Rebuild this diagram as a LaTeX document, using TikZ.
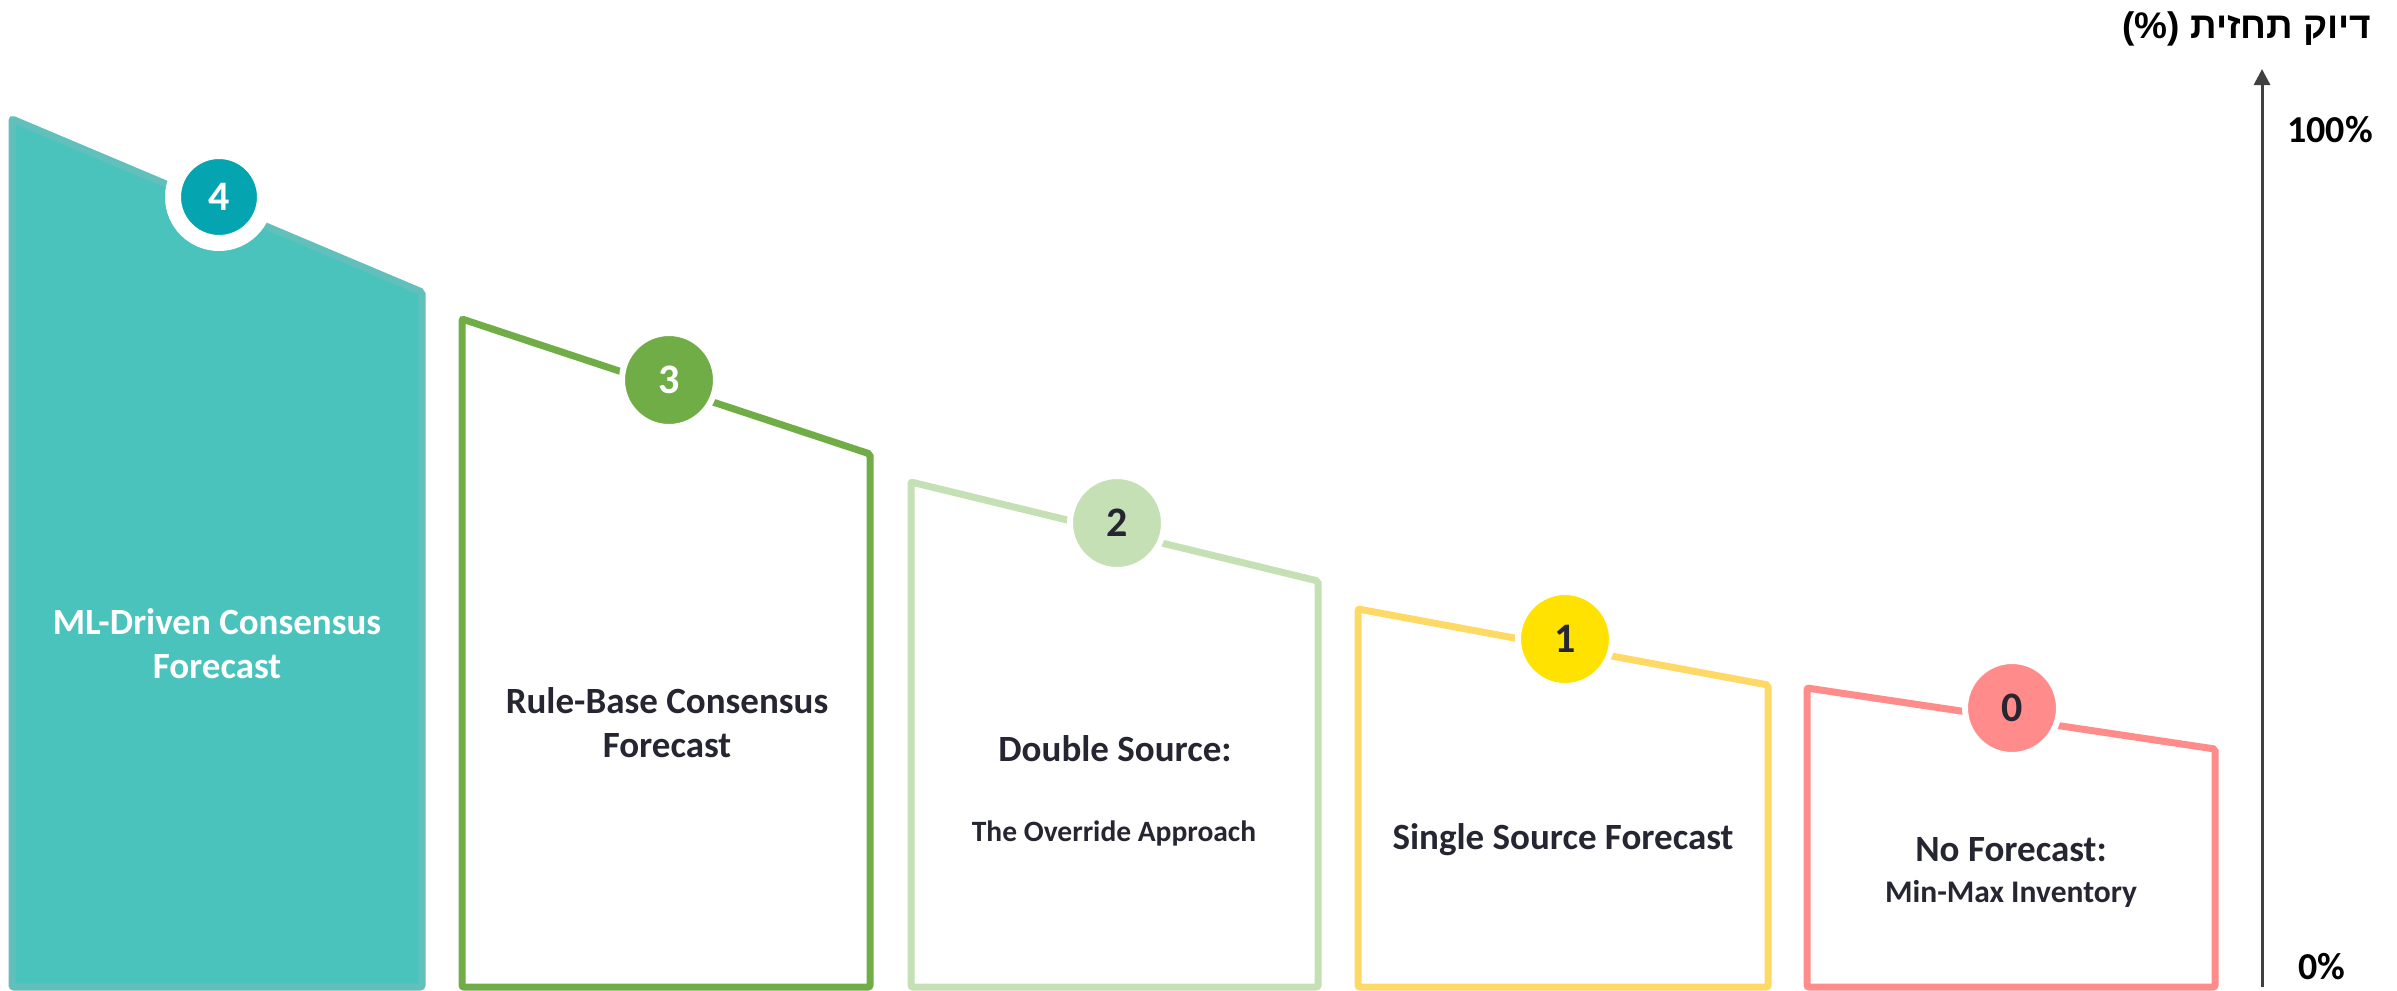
\documentclass[tikz,border=0pt]{standalone}
\usepackage{fontspec}
\setmainfont{Carlito}
\newfontfamily\hebfont[Script=Hebrew]{Liberation Sans}
\TeXXeTstate=1
\usetikzlibrary{arrows.meta}
\definecolor{tealfill}{HTML}{4BC3BD}
\definecolor{tealedge}{HTML}{62C0BC}
\definecolor{tealdark}{HTML}{04A5B0}
\definecolor{grn}{HTML}{70AD47}
\definecolor{lgrn}{HTML}{C5E0B4}
\definecolor{ylw}{HTML}{FFD966}
\definecolor{ylwdark}{HTML}{FFE200}
\definecolor{pnk}{HTML}{FF8B8B}
\definecolor{txt}{HTML}{262632}
\definecolor{axisgray}{HTML}{404040}
\begin{document}
\begin{tikzpicture}[x=1pt, y=-1pt]
\tikzstyle{level}=[line width=7pt, rounded corners=2pt]
\tikzstyle{badge}=[circle, draw=white, line width=6pt, minimum size=94pt, inner sep=0pt, yshift=10pt, font=\fontsize{42}{42}\selectfont\bfseries]
\tikzstyle{label}=[align=center, text=txt, font=\fontsize{37}{44}\selectfont\bfseries]
\tikzstyle{sub}=[align=center, text=txt, font=\fontsize{29.5}{34}\selectfont\bfseries]
\tikzstyle{tick}=[font=\fontsize{38}{38}\selectfont\bfseries]
\useasboundingbox (0,0) rectangle (2397,990);

% the five levels
\draw[level, draw=tealedge, fill=tealfill] (12,987) -- (12,119) -- (422,292) -- (422,987) -- cycle;
\draw[level, draw=grn] (462,987) -- (462,319) -- (870,454) -- (870,987) -- cycle;
\draw[level, draw=lgrn] (911,987) -- (911,482) -- (1318,581) -- (1318,987) -- cycle;
\draw[level, draw=ylw] (1358,987) -- (1358,609) -- (1768,685) -- (1768,987) -- cycle;
\draw[level, draw=pnk] (1807,987) -- (1807,688) -- (2215,749) -- (2215,987) -- cycle;

% badges
\node[badge, fill=tealdark, text=white, line width=16pt, minimum size=92pt] (n4) at (219,207) {4};
\node[badge, fill=grn, text=white] (n3) at (669,390) {3};
\node[badge, fill=lgrn, text=txt] (n2) at (1117,533) {2};
\node[badge, fill=ylwdark, text=txt] (n1) at (1565,649) {1};
\node[badge, fill=pnk, text=txt] (n0) at (2012,718) {0};

% texts
\node[label, text=white] (l4) at (217,644) {ML-Driven Consensus\\Forecast};
\node[label] (l3) at (667,723) {Rule-Base Consensus\\Forecast};
\node[label] (l2) at (1115,749) {Double Source:};
\node[sub] (s2) at (1114,833) {The Override Approach};
\node[label] (l1) at (1563,840) {Single Source Forecast};
\node[label] (l0) at (2011,850) {No Forecast:};
\node[sub, font=\fontsize{31.5}{36}\selectfont\bfseries] (s0) at (2011,894) {Min-Max Inventory};

% axis
\coordinate (axbot) at (2262,987);
\coordinate (axtop) at (2262,69);
\draw[axisgray, line width=3pt, -{Triangle[length=16pt, width=16pt]}] (axbot) -- (axtop);
\node[tick] (top) at (2330,130) {100\%};
\node[tick] (bot) at (2322,967) {0\%};
\node[anchor=east, font=\hebfont\bfseries\fontsize{37}{37}\selectfont] (title) at (2375,29) {\beginR דיוק תחזית (\%)\endR};
\end{tikzpicture}
\end{document}
